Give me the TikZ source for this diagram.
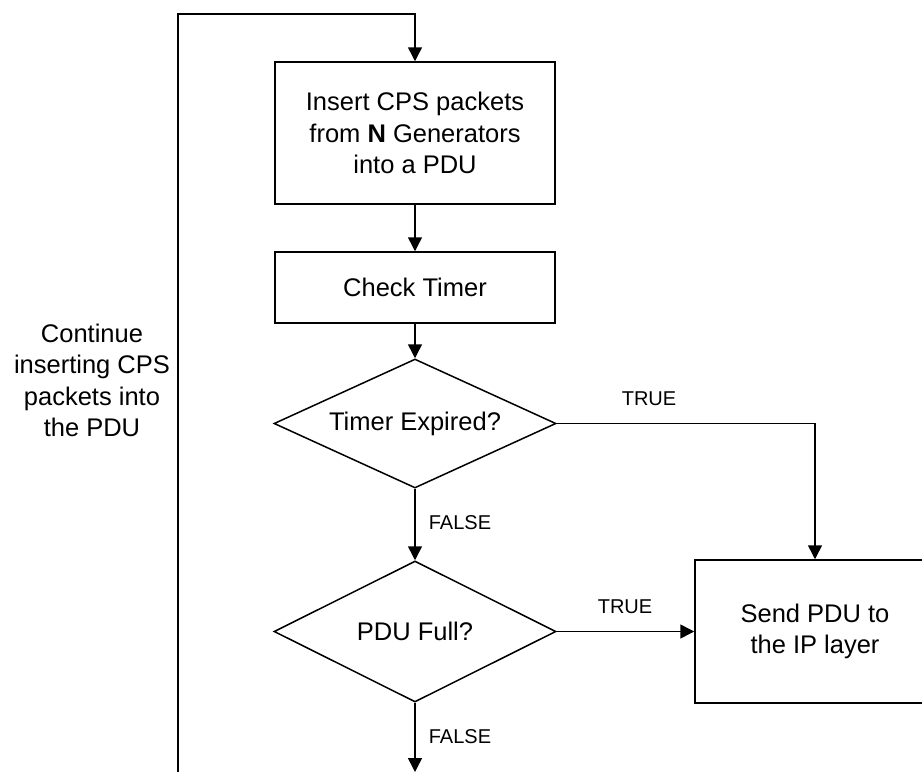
\documentclass[tikz,border=0pt]{standalone}
\usepackage{fontspec}
\setmainfont{Liberation Sans}
\usetikzlibrary{arrows.meta,shapes.geometric}
\begin{document}
\begin{tikzpicture}[x=1pt,y=-1pt,
  every node/.style={font=\fontsize{25.5}{31.5}\selectfont},
  box/.style={draw, line width=1.5pt, align=center, inner sep=0pt},
  decision/.style={draw, diamond, line width=1.5pt, inner sep=0pt,
    minimum width=282pt},
  flow/.style={line width=1.5pt, -{Triangle[length=14pt,width=14pt]}},
  cond/.style={font=\fontsize{20}{24}\selectfont}]
\useasboundingbox (0,0) rectangle (922,772);

% process boxes
\node[box, minimum width=280pt, minimum height=142pt] (insert) at (415,133)
  {Insert CPS packets\\from \textbf{N} Generators\\into a PDU};
\node[box, minimum width=280pt, minimum height=71pt] (timer) at (415,287.5)
  {Check Timer};
\node[box, minimum width=240pt, minimum height=143pt] (send) at (815,631.5)
  {Send PDU to\\the IP layer};

% decisions
\node[decision, minimum height=129pt, label=center:{Timer Expired?}] (expired) at (415,423.5) {};
\node[decision, minimum height=141pt, label=center:{PDU Full?}] (full) at (415,631.5) {};

% loose ends of the loop and the exit
\coordinate (loopbottom) at (178,772);
\coordinate (looptop) at (178,14);
\coordinate (exit) at (415,772);

% connectors
\draw[flow] (loopbottom) -- (looptop) -| (insert.north);
\draw[flow] (insert.south) -- (timer.north);
\draw[flow] (timer.south) -- (expired.north);
\draw[flow] (expired.east) -| (send.north);
\draw[flow] (expired.south) -- (full.north);
\draw[flow] (full.east) -- (send.west);
\draw[flow] (full.south) -- (exit);

% condition labels
\node[cond] (t1) at (649,399) {TRUE};
\node[cond] (t2) at (625,607) {TRUE};
\node[cond] (f1) at (460,523) {FALSE};
\node[cond] (f2) at (460,737) {FALSE};

% loop annotation
\node[align=center] (loopnote) at (92,380.5)
  {Continue\\inserting CPS\\packets into\\the PDU};
\end{tikzpicture}
\end{document}
